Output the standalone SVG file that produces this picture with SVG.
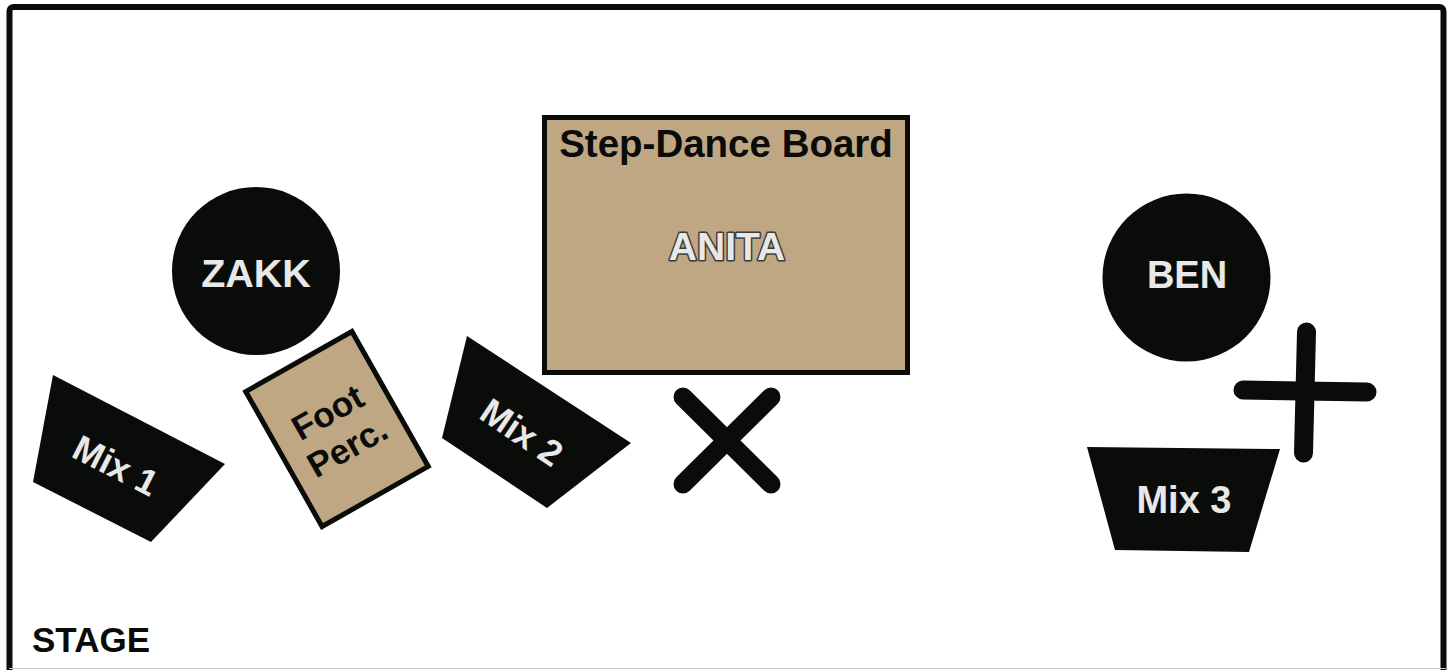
<svg xmlns="http://www.w3.org/2000/svg" width="1451" height="670" viewBox="0 0 1451 670">
<style>
.blk{fill:#0a0c0a}
.tan{fill:#bfa783;stroke:#0a0c0a;stroke-width:5}
.wt{font-family:"Liberation Sans",Arial,sans-serif;font-weight:bold;fill:#e8e8e8;text-anchor:middle}
.bt{font-family:"Liberation Sans",Arial,sans-serif;font-weight:bold;fill:#0a0c0a;text-anchor:middle}
.bar{stroke:#0a0c0a;stroke-width:19;stroke-linecap:round;fill:none}
</style>
<rect width="1451" height="670" fill="#ffffff"/>
<g id="stage">
<rect x="9.5" y="7" width="1434" height="700" rx="4" fill="none" stroke="#0a0c0a" stroke-width="6"/>
<line x1="9" y1="668.5" x2="1446" y2="668.5" stroke="#c8c8c8" stroke-width="1"/>
<text class="bt" x="32" y="652" font-size="35" style="text-anchor:start">STAGE</text>
</g>
<g id="board">
<rect class="tan" x="544.5" y="117.5" width="363" height="255"/>
<text class="bt" x="726" y="157" font-size="38.5">Step-Dance Board</text>
<text class="wt" x="727" y="260" font-size="39" stroke="#3a3a3a" stroke-width="3" style="paint-order:stroke" stroke-linejoin="round">ANITA</text>
</g>
<g id="zakk">
<circle class="blk" cx="256" cy="271" r="84"/>
<text class="wt" x="256" y="287" font-size="39.5">ZAKK</text>
</g>
<g id="ben">
<circle class="blk" cx="1186.5" cy="277.5" r="84"/>
<text class="wt" x="1187" y="288" font-size="38">BEN</text>
</g>
<g id="mix1">
<polygon class="blk" points="53,375 225,464 151,542 33,482"/>
<text class="wt" font-size="36" transform="translate(116,465) rotate(27)" y="13">Mix 1</text>
</g>
<g id="footperc">
<g transform="translate(337,429) rotate(-29.5)">
<rect class="tan" x="-61" y="-77.5" width="122" height="155" stroke-width="4.5"/>
<text class="bt" font-size="35" y="-7">Foot</text>
<text class="bt" font-size="35" y="33">Perc.</text>
</g>
</g>
<g id="mix2">
<polygon class="blk" points="467,336 631,443 547,508 442,438"/>
<text class="wt" font-size="36" transform="translate(522,432) rotate(34)" y="13">Mix 2</text>
</g>
<g id="xmark">
<line class="bar" x1="683" y1="397" x2="771" y2="484"/>
<line class="bar" x1="771" y1="397" x2="683" y2="484"/>
</g>
<g id="plus">
<line class="bar" x1="1306.5" y1="332" x2="1303.5" y2="453" stroke-width="20"/>
<line class="bar" x1="1243" y1="390" x2="1367" y2="392" stroke-width="20"/>
</g>
<g id="mix3">
<polygon class="blk" points="1087,447 1280,449 1249,552 1115,550"/>
<text class="wt" x="1184" y="513" font-size="38">Mix 3</text>
</g>
<g id="connectors"></g>
</svg>
